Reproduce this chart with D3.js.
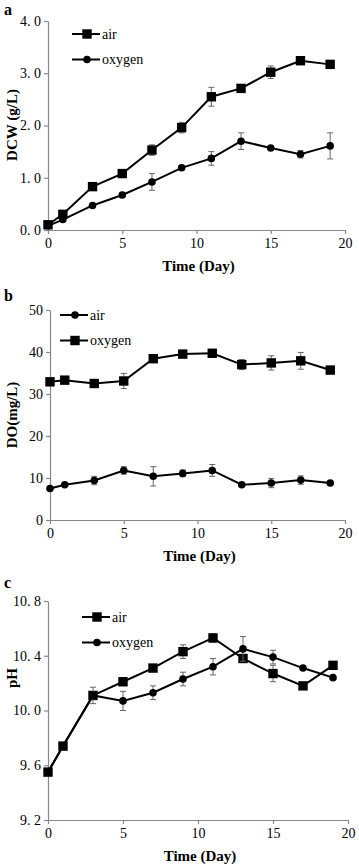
<!DOCTYPE html>
<html>
<head>
<meta charset="utf-8">
<script src="https://cdn.jsdelivr.net/npm/d3@7"></script>
<style>
  body { margin: 0; background: #fff; }
  svg text { font-family: "Liberation Serif", "DejaVu Serif", serif; }
</style>
</head>
<body>
<div id="container"></div>
<script>
// days sampled
const days = [0, 1, 3, 5, 7, 9, 11, 13, 15, 17, 19];

// panel a: DCW (g/L)
const dcwAir = [0.10, 0.30, 0.83, 1.08, 1.53, 1.96, 2.55, 2.71, 3.02, 3.24, 3.17];
const dcwAirErr = [0.02, 0.03, 0.04, 0.04, 0.10, 0.10, 0.18, 0.05, 0.12, 0.04, 0.04];
const dcwOxy = [0.08, 0.20, 0.47, 0.67, 0.92, 1.19, 1.37, 1.70, 1.57, 1.45, 1.61];
const dcwOxyErr = [0.02, 0.03, 0.03, 0.05, 0.16, 0.04, 0.13, 0.16, 0.03, 0.07, 0.25];

// panel b: DO (mg/L)
const doAir = [7.5, 8.4, 9.4, 11.8, 10.4, 11.1, 11.8, 8.4, 8.8, 9.5, 8.8];
const doAirErr = [0.3, 0.4, 1.0, 0.9, 2.3, 0.8, 1.4, 0.4, 1.1, 1.0, 0.4];
const doOxy = [32.9, 33.3, 32.5, 33.1, 38.4, 39.5, 39.7, 37.0, 37.4, 37.9, 35.7];
const doOxyErr = [0.4, 0.4, 0.6, 1.8, 0.6, 0.4, 0.4, 1.2, 1.7, 2.0, 0.5];

// panel c: pH
const phAir = [9.55, 9.74, 10.11, 10.21, 10.31, 10.43, 10.53, 10.38, 10.27, 10.18, 10.33];
const phAirErr = [0.01, 0.01, 0.02, 0.01, 0.01, 0.05, 0.03, 0.02, 0.06, 0.01, 0.02];
const phOxy = [9.55, 9.74, 10.11, 10.07, 10.13, 10.23, 10.32, 10.45, 10.39, 10.31, 10.24];
const phOxyErr = [0.01, 0.01, 0.06, 0.07, 0.05, 0.05, 0.06, 0.09, 0.05, 0.01, 0.01];

const xTicks = [0, 5, 10, 15, 20];

const width = 359, height = 868;
const svg = d3.select("#container").append("svg")
    .attr("width", width)
    .attr("height", height);

// tick labels in the source use "4. 0" style spacing
const spaced = f => v => d3.format(f)(v).replace(".", ".\u00a0");

const panels = [
    {
        label: "a", top: 21, bottom: 230, left: 48, right: 345,
        yDomain: [0, 4], yTicks: [0, 1, 2, 3, 4], fmt: spaced(".1f"),
        yTitle: "DCW (g/L)", titleY: 125, labelY: 15, legendX: 72, legendY: 34,
        series: [
            { name: "air", v: dcwAir, e: dcwAirErr, shape: "square" },
            { name: "oxygen", v: dcwOxy, e: dcwOxyErr, shape: "circle" }
        ]
    },
    {
        label: "b", top: 310, bottom: 520, left: 50, right: 345,
        yDomain: [0, 50], yTicks: [0, 10, 20, 30, 40, 50], fmt: d3.format("d"),
        yTitle: "DO(mg/L)", titleY: 415, labelY: 301, legendX: 60, legendY: 315,
        series: [
            { name: "air", v: doAir, e: doAirErr, shape: "circle" },
            { name: "oxygen", v: doOxy, e: doOxyErr, shape: "square" }
        ]
    },
    {
        label: "c", top: 601, bottom: 820, left: 48, right: 348,
        yDomain: [9.2, 10.8], yTicks: [9.2, 9.6, 10.0, 10.4, 10.8], fmt: spaced(".1f"),
        yTitle: "pH", titleY: 678, labelY: 588, legendX: 82, legendY: 617,
        series: [
            { name: "air", v: phAir, e: phAirErr, shape: "square" },
            { name: "oxygen", v: phOxy, e: phOxyErr, shape: "circle" }
        ]
    }
];

function marker(g, shape, x, y) {
    if (shape === "square") {
        g.append("rect")
            .attr("x", x - 4.7).attr("y", y - 4.7)
            .attr("width", 9.4).attr("height", 9.4)
            .attr("fill", "#000");
    } else {
        g.append("circle")
            .attr("cx", x).attr("cy", y).attr("r", 3.8)
            .attr("fill", "#000");
    }
}

panels.forEach(p => {
    const x = d3.scaleLinear().domain([0, 20]).range([p.left, p.right]);
    const y = d3.scaleLinear().domain(p.yDomain).range([p.bottom, p.top]);
    const g = svg.append("g");

    // axes
    const xAxis = g.append("g")
        .attr("transform", `translate(0,${p.bottom})`)
        .call(d3.axisBottom(x).tickValues(xTicks).tickSize(4).tickSizeOuter(0).tickPadding(4));
    const yAxis = g.append("g")
        .attr("transform", `translate(${p.left},0)`)
        .call(d3.axisLeft(y).tickValues(p.yTicks).tickFormat(p.fmt).tickSize(4).tickSizeOuter(0).tickPadding(3));
    [xAxis, yAxis].forEach(a => {
        a.select(".domain").attr("stroke", "#888").attr("stroke-width", 1.2);
        a.selectAll(".tick line").attr("stroke", "#888").attr("stroke-width", 1.2);
        a.selectAll(".tick text")
            .attr("fill", "#000")
            .style("font-size", "14px")
            .style("font-family", "Liberation Serif, serif");
    });

    // titles
    g.append("text")
        .attr("x", (p.left + p.right) / 2 + 2)
        .attr("y", p.bottom + 41)
        .attr("text-anchor", "middle")
        .attr("font-weight", "bold")
        .attr("font-size", "15px")
        .text("Time (Day)");
    g.append("text")
        .attr("transform", `translate(17,${p.titleY}) rotate(-90)`)
        .attr("text-anchor", "middle")
        .attr("font-weight", "bold")
        .attr("font-size", "15px")
        .text(p.yTitle);
    g.append("text")
        .attr("x", 4)
        .attr("y", p.labelY)
        .attr("font-weight", "bold")
        .attr("font-size", "16px")
        .text(p.label);

    // series
    p.series.forEach(s => {
        const pts = days.map((d, i) => ({ d, v: s.v[i], e: s.e[i] }));
        const eg = g.append("g").attr("stroke", "#666").attr("stroke-width", 1);
        pts.forEach(pt => {
            const y0 = y(pt.v - pt.e), y1 = y(pt.v + pt.e), cx = x(pt.d);
            eg.append("line").attr("x1", cx).attr("x2", cx).attr("y1", y0).attr("y2", y1);
            eg.append("line").attr("x1", cx - 3).attr("x2", cx + 3).attr("y1", y0).attr("y2", y0);
            eg.append("line").attr("x1", cx - 3).attr("x2", cx + 3).attr("y1", y1).attr("y2", y1);
        });
        g.append("path")
            .datum(pts)
            .attr("fill", "none")
            .attr("stroke", "#000")
            .attr("stroke-width", 2)
            .attr("d", d3.line().x(pt => x(pt.d)).y(pt => y(pt.v)));
        const mg = g.append("g");
        pts.forEach(pt => marker(mg, s.shape, x(pt.d), y(pt.v)));
    });

    // legend
    p.series.forEach((s, i) => {
        const ly = p.legendY + i * 25.5;
        g.append("line")
            .attr("x1", p.legendX).attr("x2", p.legendX + 28)
            .attr("y1", ly).attr("y2", ly)
            .attr("stroke", "#000").attr("stroke-width", 2);
        marker(g, s.shape, p.legendX + 15, ly);
        g.append("text")
            .attr("x", p.legendX + 30)
            .attr("y", ly + 4.5)
            .attr("font-size", "14px")
            .text(s.name);
    });
});
</script>
</body>
</html>
